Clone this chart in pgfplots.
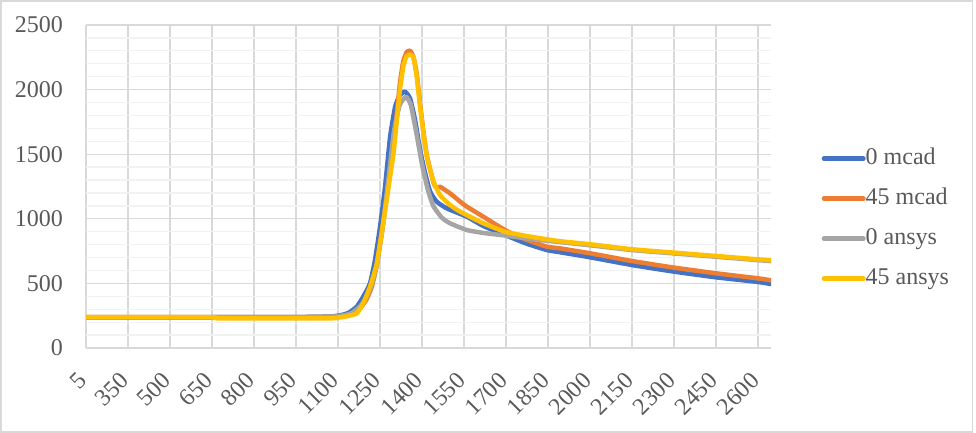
\documentclass[border=0pt]{standalone}
\usepackage{fontspec}
\setmainfont{Liberation Serif}
\usepackage{pgfplots}
\pgfplotsset{compat=1.18}
\definecolor{txt}{HTML}{595959}
\definecolor{gmaj}{HTML}{D9D9D9}
\definecolor{gmin}{HTML}{F2F2F2}
\definecolor{cblue}{HTML}{4472C4}
\definecolor{corange}{HTML}{ED7D31}
\definecolor{cgray}{HTML}{A5A5A5}
\definecolor{cyellow}{HTML}{FFC000}
\newcommand{\bigf}{\fontsize{24bp}{28bp}\selectfont}
\begin{document}
\begin{tikzpicture}
\path[use as bounding box] (0,0) rectangle (976bp,433bp);
\draw[gmaj, line width=1.5bp] (1bp,1bp) rectangle (972.5bp,432bp);
\begin{axis}[
  at={(86bp,85bp)}, anchor=south west,
  scale only axis, width=685bp, height=323bp,
  xmin=200, xmax=2646, ymin=0, ymax=2500,
  axis line style={draw=none},
  major tick length=0pt, minor tick length=0pt,
  xtick={200,350,...,2600},
  xticklabels={5,350,500,650,800,950,1100,1250,1400,1550,1700,1850,2000,2150,2300,2450,2600},
  ytick={0,500,...,2500},
  yticklabels={0,500,1000,1500,2000,2500},
  minor ytick={100,200,300,400,600,700,800,900,1100,1200,1300,1400,1600,1700,1800,1900,2100,2200,2300,2400},
  xmajorgrids, ymajorgrids, yminorgrids,
  major grid style={gmaj, line width=1.3bp},
  minor grid style={gmin, line width=1.3bp},
  tick label style={font=\bigf, text=txt},
  yticklabel style={anchor=east, inner sep=0pt, xshift=-23bp},
  xticklabel style={xshift=-3bp, yshift=-28.5bp, rotate=45, anchor=east, inner sep=0pt},
  legend style={draw=none, fill=none, inner sep=0pt, outer sep=0pt,
    at={(axis description cs:1.074,0.62)}, anchor=north west,
    font=\bigf, text=txt, row sep=18bp,
    nodes={inner sep=0pt, text height=17bp, text depth=5bp},
    /tikz/every even column/.append style={column sep=3bp}},
  legend cell align=left,
  legend image code/.code={\draw[#1, line width=4.5bp, line cap=round] (2.25bp,0bp) -- (41.75bp,0bp);},
  every axis plot/.append style={line width=4.5bp, line join=round, line cap=round, smooth, tension=0.3},
]
\addplot[cblue] coordinates {
(200,238) (650,238) (1000,240) (1080,245) (1118,258) (1140,275) (1167,320) (1190,397)
(1214,500) (1232,681) (1250,939) (1268,1249) (1286,1636) (1304,1868) (1321,1958) (1339,1984)
(1357,1932) (1375,1765) (1393,1533) (1411,1352) (1429,1210) (1452,1133) (1488,1081) (1560,1016)
(1619,944) (1696,875) (1770,810) (1846,758) (1893,741) (2000,702) (2150,642) (2300,591)
(2450,547) (2600,511) (2646,495)};
\addlegendentry{0 mcad}
\addplot[corange] coordinates {
(200,238) (1000,240) (1080,243) (1120,250) (1150,265) (1180,310) (1200,370) (1220,470)
(1238,640) (1262,990) (1280,1270) (1298,1560) (1310,1820) (1321,2050) (1333,2220) (1345,2290)
(1357,2301) (1369,2255) (1381,2120) (1393,1890) (1405,1670) (1417,1490) (1429,1380) (1441,1280)
(1450,1240) (1464,1248) (1500,1197) (1536,1133) (1560,1094) (1619,1016) (1696,913) (1770,840)
(1846,784) (1893,771) (2000,733) (2150,673) (2300,622) (2450,578) (2600,539) (2646,524)};
\addlegendentry{45 mcad}
\addplot[cgray] coordinates {
(200,238) (1000,240) (1080,243) (1120,252) (1150,272) (1180,325) (1200,390) (1220,490)
(1240,660) (1260,940) (1280,1310) (1300,1680) (1320,1880) (1343,1945) (1360,1880) (1380,1660)
(1400,1420) (1420,1230) (1440,1100) (1470,1010) (1500,965) (1560,913) (1620,890) (1680,875)
(1750,855) (1846,830) (2000,795) (2150,758) (2300,732) (2450,706) (2600,680) (2646,673)};
\addlegendentry{0 ansys}
\addplot[cyellow] coordinates {
(200,238) (650,238) (670,230) (1070,230) (1100,235) (1130,245) (1167,268) (1190,346)
(1214,474) (1238,650) (1262,975) (1280,1240) (1298,1507) (1310,1765) (1321,1997) (1333,2177)
(1345,2260) (1357,2270) (1369,2255) (1381,2100) (1393,1868) (1405,1662) (1417,1481) (1429,1378)
(1441,1287) (1464,1184) (1500,1107) (1536,1055) (1619,965) (1696,900) (1770,868) (1846,841)
(1893,826) (2000,803) (2150,764) (2300,738) (2450,712) (2600,686) (2646,679)};
\addlegendentry{45 ansys}
\end{axis}
\end{tikzpicture}
\end{document}
